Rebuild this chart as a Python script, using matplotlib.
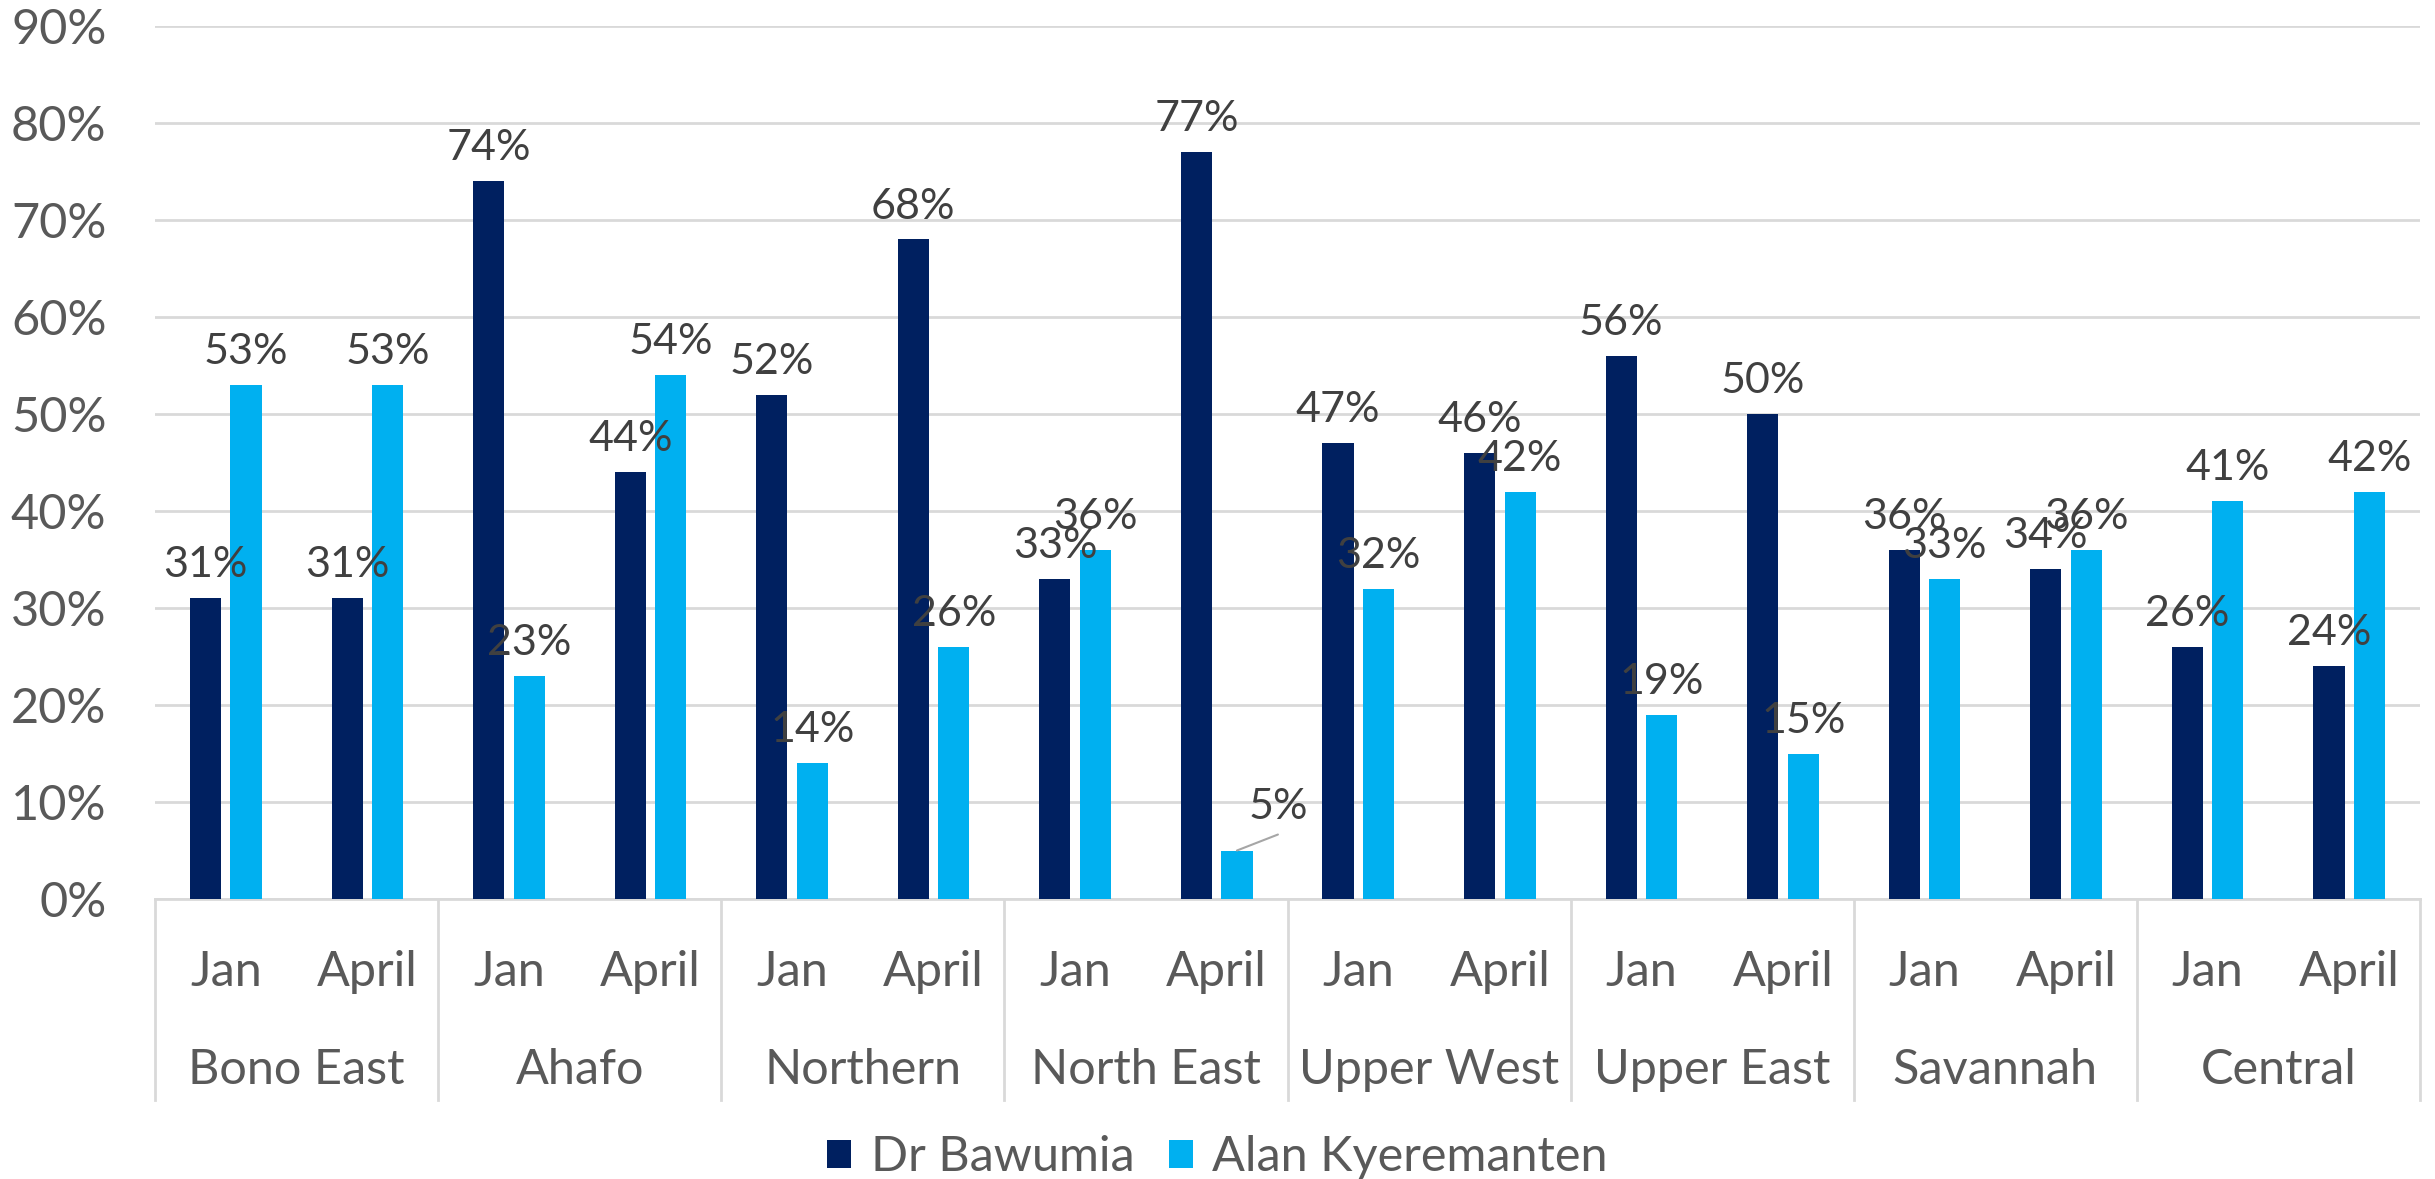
import matplotlib
matplotlib.use('Agg')
import matplotlib.pyplot as plt
import numpy as np

regions = ["Bono East", "Ahafo", "Northern", "North East",
           "Upper West", "Upper East", "Savannah", "Central"]
periods = ["Jan", "April"]
series_names = ["Dr Bawumia", "Alan Kyeremanten"]
bawumia = [31, 31, 74, 44, 52, 68, 33, 77, 47, 46, 56, 50, 36, 34, 26, 24]
kyeremanten = [53, 53, 23, 54, 14, 26, 36, 5, 32, 42, 19, 15, 33, 36, 41, 42]
y_ticks = [0, 10, 20, 30, 40, 50, 60, 70, 80, 90]
y_tick_labels = ["0%", "10%", "20%", "30%", "40%", "50%", "60%", "70%", "80%", "90%"]

DARK = "#002060"
LIGHT = "#00B0F0"
TICK_C = "#595959"
LABEL_C = "#404040"
GRID_C = "#D9D9D9"
FONT = ["Lato", "DejaVu Sans"]

plt.rcParams['font.family'] = FONT

fig = plt.figure(figsize=(24.35, 11.79), dpi=100)
ax = fig.add_axes([155/2435, 1 - 899/1179, (2420-155)/2435, (899-26)/1179])

n = len(bawumia)
x = np.arange(n)
w = 0.22
off = 0.143
b1 = ax.bar(x - off, bawumia, w, color=DARK, label=series_names[0], zorder=3)
b2 = ax.bar(x + off, kyeremanten, w, color=LIGHT, label=series_names[1], zorder=3)

ax.set_xlim(-0.5, n - 0.5)
ax.set_ylim(0, 90)
ax.set_yticks(y_ticks)
ax.set_yticklabels(y_tick_labels)
ax.tick_params(axis='y', length=0, pad=35, labelsize=35, labelcolor=TICK_C)
ax.set_xticks([])
ax.yaxis.grid(True, color=GRID_C, linewidth=2, zorder=0)
ax.set_axisbelow(True)
for s in ['top', 'right', 'left']:
    ax.spines[s].set_visible(False)
ax.spines['bottom'].set_color(GRID_C)
ax.spines['bottom'].set_linewidth(2)

# data labels
for xs, vals in ((x - off, bawumia), (x + off, kyeremanten)):
    for xi, v in zip(xs, vals):
        if v == 5:
            ax.annotate(f"{v}%", (xi, v), xytext=(29.5, 23), textcoords='offset points',
                        ha='center', va='baseline', fontsize=31, color=LABEL_C, zorder=5)
            ax.annotate("", (xi, v), xytext=(29.5, 11.5), textcoords='offset points',
                        arrowprops=dict(arrowstyle='-', color='#A6A6A6', lw=1.5,
                                        shrinkA=0, shrinkB=0), zorder=5)
        else:
            ax.annotate(f"{v}%", (xi, v), xytext=(0, 15), textcoords='offset points',
                        ha='center', va='baseline', fontsize=31, color=LABEL_C, zorder=5)

# category axis (two levels)
trans = ax.get_xaxis_transform()
bottom_y = -(1100 - 899) / 873
for k in range(len(regions) + 1):
    xv = -0.5 + 2 * k
    ax.plot([xv, xv], [0, bottom_y], transform=trans, color=GRID_C, lw=2, clip_on=False)
for i in range(n):
    ax.text(i, -(972 - 899) / 873, periods[i % 2], transform=trans, ha='center', va='center',
            fontsize=35, color=TICK_C)
for k, r in enumerate(regions):
    ax.text(2 * k + 0.5, -(1070 - 899) / 873, r, transform=trans, ha='center', va='center',
            fontsize=35, color=TICK_C)

leg = fig.legend(handles=[b1, b2], labels=series_names, loc='center',
                 bbox_to_anchor=(0.5, 1 - 1157/1179), ncol=2, frameon=False,
                 fontsize=35, handlelength=0.5, handleheight=0.5, handletextpad=0.4,
                 columnspacing=0.7, labelcolor=TICK_C)

fig.savefig("out.png", dpi=100)
